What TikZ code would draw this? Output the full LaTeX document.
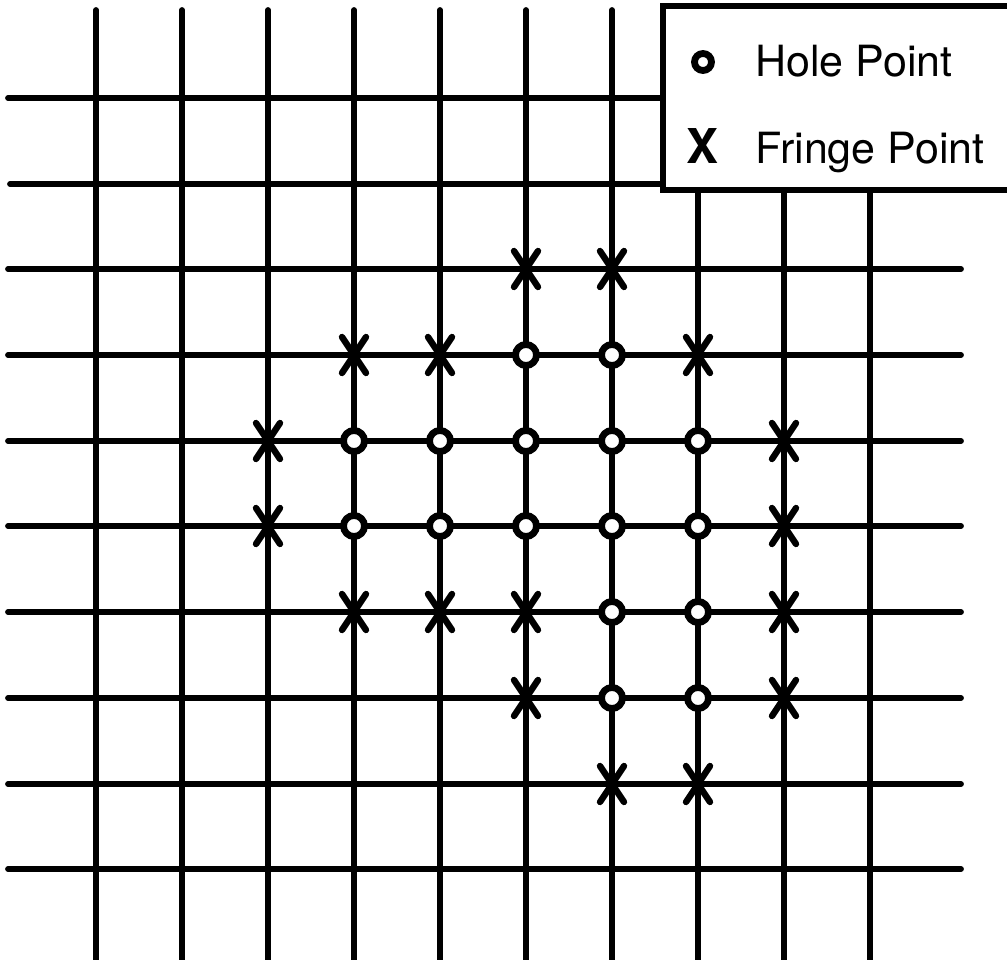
\documentclass[tikz,border=0pt]{standalone}
\usepackage{fontspec}
\setmainfont{TeX Gyre Heros}
\usetikzlibrary{arrows.meta}

\tikzset{
  gridline/.style={line width=2.9pt,line cap=round},
  hole/.style={circle,draw,fill=white,line width=3.4pt,minimum size=10.5pt,inner sep=0pt},
  fringe/.pic={\draw[line width=3.2pt,line cap=round] (-12,-18) -- (12,18) (-12,18) -- (12,-18);},
  legendtext/.style={anchor=base west,inner sep=0pt,font=\fontsize{21.5}{26}\selectfont}
}

\begin{document}
\begin{tikzpicture}[x=0.5pt,y=-0.5pt]
\useasboundingbox (0,0) rectangle (1007,959);
% vertical lines
\draw[gridline] (96,10) -- (96,970);
\draw[gridline] (182,10) -- (182,970);
\draw[gridline] (268,10) -- (268,970);
\draw[gridline] (354,10) -- (354,970);
\draw[gridline] (440,10) -- (440,970);
\draw[gridline] (526,10) -- (526,970);
\draw[gridline] (612,10) -- (612,970);
\draw[gridline] (698,190) -- (698,970);
\draw[gridline] (784,190) -- (784,970);
\draw[gridline] (870,190) -- (870,970);
% horizontal lines
\draw[gridline] (8,98) -- (663,98);
\draw[gridline] (10,184) -- (663,184);
\draw[gridline] (8,269) -- (961,269);
\draw[gridline] (8,355) -- (961,355);
\draw[gridline] (8,441) -- (961,441);
\draw[gridline] (8,526) -- (961,526);
\draw[gridline] (8,612) -- (961,612);
\draw[gridline] (8,698) -- (961,698);
\draw[gridline] (8,784) -- (961,784);
\draw[gridline] (8,869) -- (961,869);
% legend
\draw[line width=2.9pt,fill=white] (663,6) rectangle (1030,190);
\node[hole,minimum size=8.5pt] (key-hole) at (703,62) {};
\node[legendtext] (key-hole-text) at (755,76) {Hole Point};
\node[anchor=base,inner sep=0pt,font=\fontsize{24}{28}\selectfont\bfseries] (key-fringe) at (703,163) {X};
\node[legendtext] (key-fringe-text) at (755,163) {Fringe Point};
% hole points
\node[hole] (h-5-3) at (526,355) {};
\node[hole] (h-6-3) at (612,355) {};
\node[hole] (h-3-4) at (354,441) {};
\node[hole] (h-4-4) at (440,441) {};
\node[hole] (h-5-4) at (526,441) {};
\node[hole] (h-6-4) at (612,441) {};
\node[hole] (h-7-4) at (698,441) {};
\node[hole] (h-3-5) at (354,526) {};
\node[hole] (h-4-5) at (440,526) {};
\node[hole] (h-5-5) at (526,526) {};
\node[hole] (h-6-5) at (612,526) {};
\node[hole] (h-7-5) at (698,526) {};
\node[hole] (h-6-6) at (612,612) {};
\node[hole] (h-7-6) at (698,612) {};
\node[hole] (h-6-7) at (612,698) {};
\node[hole] (h-7-7) at (698,698) {};
% fringe points
\pic at (526,269) {fringe};
\pic at (612,269) {fringe};
\pic at (354,355) {fringe};
\pic at (440,355) {fringe};
\pic at (698,355) {fringe};
\pic at (268,441) {fringe};
\pic at (784,441) {fringe};
\pic at (268,526) {fringe};
\pic at (784,526) {fringe};
\pic at (354,612) {fringe};
\pic at (440,612) {fringe};
\pic at (526,612) {fringe};
\pic at (784,612) {fringe};
\pic at (526,698) {fringe};
\pic at (784,698) {fringe};
\pic at (612,784) {fringe};
\pic at (698,784) {fringe};
\end{tikzpicture}
\end{document}
